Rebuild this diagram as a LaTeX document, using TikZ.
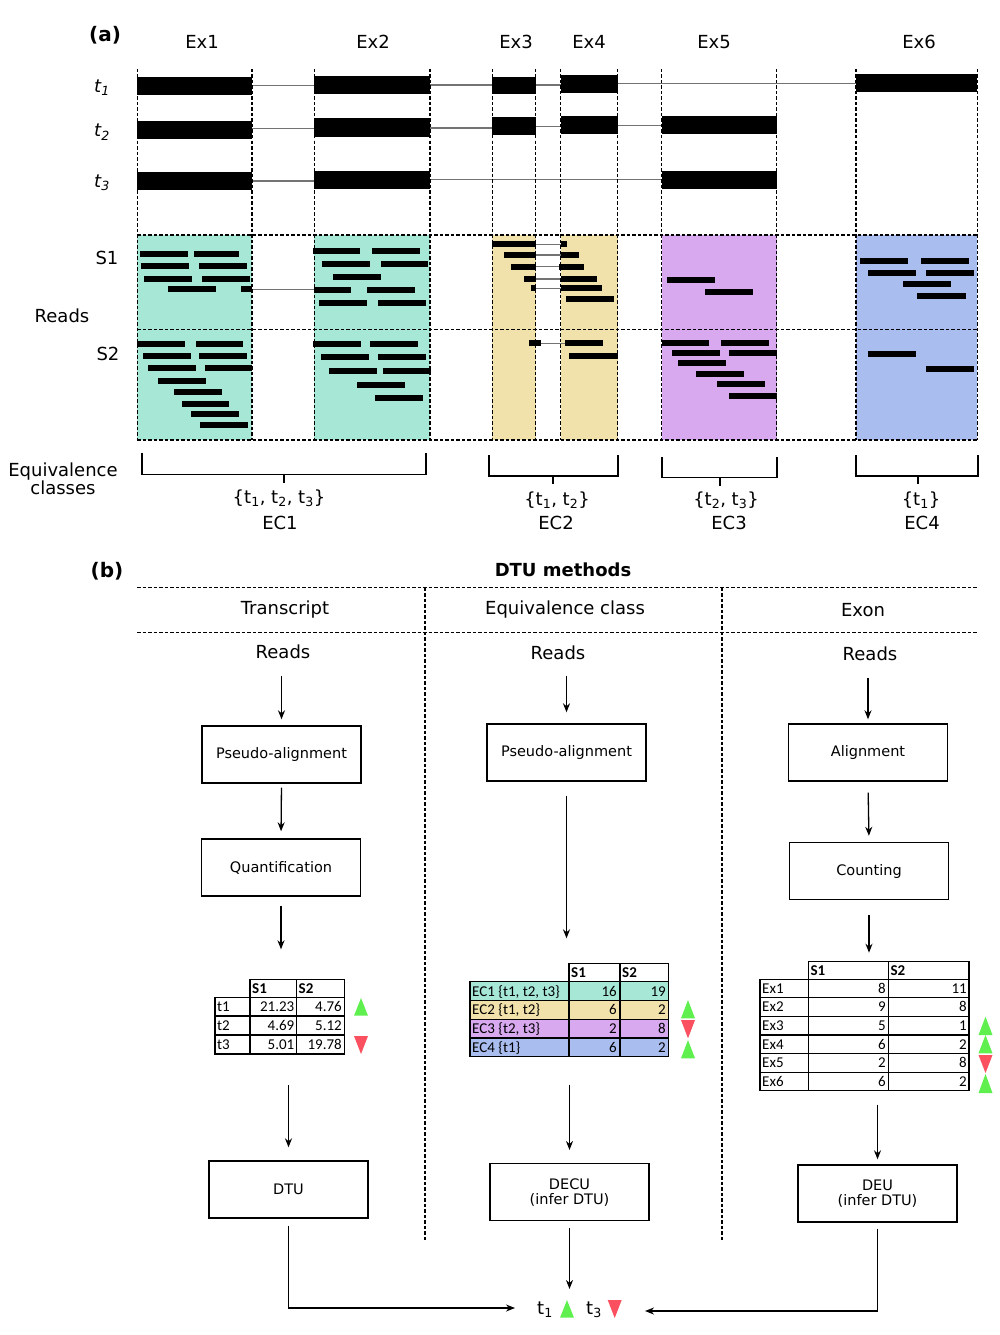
\documentclass[tikz,border=0pt]{standalone}
\usepackage{fontspec}
\setmainfont{DejaVu Sans}
\newfontfamily\tabfont{Carlito}
\usetikzlibrary{arrows.meta}
\definecolor{ecteal}{RGB}{167,231,214}
\definecolor{ecyel}{RGB}{241,225,170}
\definecolor{ecpur}{RGB}{216,169,239}
\definecolor{ecblu}{RGB}{169,189,239}
\definecolor{upgreen}{RGB}{95,240,80}
\definecolor{dnred}{RGB}{250,80,95}
\newcommand\szL{\fontsize{18}{20}\selectfont}
\newcommand\szH{\fontsize{20}{22}\selectfont}
\newcommand\szB{\fontsize{14.5}{15}\selectfont}
\newcommand\szT{\tabfont\fontsize{15}{16}\selectfont}
\newcommand\readbar[3]{\fill[black] (#1,#3-3) rectangle (#2,#3+3);}
\newcommand\exbar[4]{\fill[black] (#1,#2) rectangle (#3,#4);}
\newcommand\uptri[3]{\fill[upgreen] (#1-7,#3) -- (#1+7,#3) -- (#1,#2) -- cycle;}
\newcommand\dntri[3]{\fill[dnred] (#1-7,#2) -- (#1+7,#2) -- (#1,#3) -- cycle;}
\begin{document}
\begin{tikzpicture}[x=1pt,y=-1pt,
  lbl/.style={font=\szL, inner sep=0pt},
  dsh/.style={dash pattern=on 3.5pt off 2pt, line width=1.45pt},
  gline/.style={black!55, line width=1.1pt},
  arr/.style={-{Stealth[length=9pt,width=7pt]}, line width=1.3pt},
  box/.style={draw, line width=1.4pt, minimum width=159pt, minimum height=57pt, font=\szB, inner sep=0pt, align=center},
  tline/.style={line width=1.2pt},
  tt/.style={font=\szT, inner sep=0pt},
  brk/.style={line width=1.4pt}]
\fill[white] (0,0) rectangle (1000,1335);
\useasboundingbox (0,0) rectangle (1000,1335);

% ---------------- (a) ----------------
\node[font=\szH\bfseries, inner sep=0pt] (lbla) at (105,35) {(a)};
\foreach \nm/\xx in {Ex1/202,Ex2/373,Ex3/516,Ex4/589,Ex5/714,Ex6/919}
  \node[lbl] (h\nm) at (\xx,42) {\nm};
\node[lbl] (tl1) at (102,88) {\textit{t\textsubscript{1}}};
\node[lbl] (tl2) at (102,132) {\textit{t\textsubscript{2}}};
\node[lbl] (tl3) at (102,183) {\textit{t\textsubscript{3}}};
\node[lbl] (s1) at (107,258) {S1};
\node[lbl] (s2) at (108,354) {S2};
\node[lbl] (rdsa) at (62,316) {Reads};

% coloured read areas
\fill[ecteal] (137.3,235) rectangle (252,440);
\fill[ecteal] (314.3,235) rectangle (430,440);
\fill[ecyel] (492.3,235) rectangle (535.7,440);
\fill[ecyel] (560.7,235) rectangle (617.7,440);
\fill[ecpur] (661.7,235) rectangle (776.7,440);
\fill[ecblu] (856,235) rectangle (977.3,440);

% transcript intron lines
\draw[gline] (252,85.7) -- (314,85.7);
\draw[gline] (430,85) -- (492,85);
\draw[gline] (536,85) -- (561,85);
\draw[gline] (618,83.5) -- (856,83.5);
\draw[gline] (252,128.5) -- (314,128.5);
\draw[gline] (430,128) -- (492,128);
\draw[gline] (536,126.5) -- (561,126.5);
\draw[gline] (618,125.5) -- (662,125.5);
\draw[gline] (252,181) -- (314,181);
\draw[gline] (430,179.5) -- (662,179.5);

% exon bars
\exbar{137.3}{77}{252}{95}
\exbar{137.3}{121}{252}{138.5}
\exbar{137.3}{172}{252}{189.5}
\exbar{314.3}{76}{430}{94}
\exbar{314.3}{118.5}{430}{136.5}
\exbar{314.3}{171}{430}{188.5}
\exbar{492.3}{77}{535.7}{94.5}
\exbar{492.3}{117}{535.7}{135}
\exbar{560.7}{75}{617.7}{93.5}
\exbar{560.7}{116}{617.7}{134}
\exbar{661.7}{116.5}{776.7}{134}
\exbar{661.7}{170.5}{776.7}{188.5}
\exbar{856}{74.5}{977.3}{92.5}

% read connection lines
\draw[gline] (252,289.5) -- (314,289.5);
\foreach \yy in {244.3,255,266.7,279,288.3} \draw[gline] (535.7,\yy) -- (560.7,\yy);
\draw[gline] (540.7,343.3) -- (565.3,343.3);

% reads S1 Ex1
\readbar{140.3}{187.7}{254.3}\readbar{194.3}{239}{254.3}
\readbar{141}{188.7}{265.7}\readbar{199.3}{247}{265.7}
\readbar{143.7}{191.7}{279}\readbar{202}{250}{279}
\readbar{168}{216}{289.3}\readbar{240.7}{252}{289.3}
% reads S1 Ex2
\readbar{313}{360.3}{251}\readbar{372}{420}{251}
\readbar{322.3}{370}{264.3}\readbar{380.7}{428.3}{264.3}
\readbar{333.3}{381}{277.3}
\readbar{314}{351}{290}\readbar{366.7}{414.7}{290}
\readbar{319.3}{367.3}{303}\readbar{378.3}{426}{303}
% reads S2 Ex1
\readbar{137}{185.3}{344.3}\readbar{195.7}{243.3}{344.3}
\readbar{142.7}{190.7}{355.7}\readbar{199.3}{247}{355.7}
\readbar{148.3}{196.3}{368.3}\readbar{204.7}{252}{368.3}
\readbar{158.3}{206.3}{381}
\readbar{174}{222}{392.3}
\readbar{181.7}{229.3}{404.3}
\readbar{190.7}{238.7}{414}
\readbar{200}{248}{424.7}
% reads S2 Ex2
\readbar{313.3}{361}{344.3}\readbar{370}{418}{344.3}
\readbar{321.3}{369}{357.3}\readbar{378.3}{426}{357.3}
\readbar{329}{377}{370.7}\readbar{383.3}{431}{370.7}
\readbar{356.7}{404.7}{385}
\readbar{375.3}{423.3}{397.7}
% reads Ex3/Ex4
\readbar{492.3}{535.7}{244.3}\readbar{560.7}{566.7}{244.3}
\readbar{504}{535.7}{255}\readbar{560.7}{579}{255}
\readbar{511}{535.7}{266.7}\readbar{559.3}{584}{266.7}
\readbar{524.3}{535.7}{279}\readbar{560.7}{597}{279}
\readbar{531}{535.7}{288.3}\readbar{560.7}{601.7}{288.3}
\readbar{566}{614}{299}
\readbar{529.3}{540.7}{343.3}\readbar{565.3}{602.7}{343.3}
\readbar{569.3}{617.7}{356}
% reads Ex5
\readbar{667.3}{715.3}{280}\readbar{705}{753}{291.7}
\readbar{661.7}{709.3}{343}\readbar{721}{769}{343}
\readbar{672}{720}{352.7}\readbar{729}{776.7}{352.7}
\readbar{678}{726}{363.3}
\readbar{696}{744}{374}
\readbar{717.3}{765.3}{384}
\readbar{729}{776.7}{395.7}
% reads Ex6
\readbar{860}{908}{261}\readbar{921.3}{969.3}{261}
\readbar{868}{916}{273.3}\readbar{926}{974}{273.3}
\readbar{903}{951}{284.3}
\readbar{917.3}{965.7}{296.3}
\readbar{867.7}{915.7}{354.3}\readbar{926}{974}{369}

% dashed grid
\foreach \xx in {137.3,252,314.3,430,492.3,535.7,560.7,617.7,661.7,776.7,856,977.3}
  \draw[dsh] (\xx,69) -- (\xx,440);
\foreach \yy in {235,329.5,440}
  \draw[dsh] (137.3,\yy) -- (977.3,\yy);

% equivalence classes
\node[lbl, align=center] (eqcl) at (63,479) {Equivalence\\[-2pt]classes};
\draw[brk] (142,452.7) -- (142,474.3) -- (426,474.3) -- (426,452.7);
\draw[brk] (284,474.3) -- (284,483.3);
\draw[brk] (489,455) -- (489,476) -- (618,476) -- (618,455);
\draw[brk] (553,476) -- (553,484.3);
\draw[brk] (662,457.3) -- (662,477.7) -- (777,477.7) -- (777,457.3);
\draw[brk] (720,477.7) -- (720,485.7);
\draw[brk] (856,455) -- (856,476) -- (978,476) -- (978,455);
\draw[brk] (918,476) -- (918,484);
\node[lbl] (ecs1) at (279,498) {\{t\textsubscript{1}, t\textsubscript{2}, t\textsubscript{3}\}};
\node[lbl] (ecs2) at (557,500) {\{t\textsubscript{1}, t\textsubscript{2}\}};
\node[lbl] (ecs3) at (726,500) {\{t\textsubscript{2}, t\textsubscript{3}\}};
\node[lbl] (ecs4) at (921,500) {\{t\textsubscript{1}\}};
\node[lbl] (ec1) at (280,523.3) {EC1};
\node[lbl] (ec2) at (556,523.3) {EC2};
\node[lbl] (ec3) at (729,523.3) {EC3};
\node[lbl] (ec4) at (922,523.3) {EC4};

% ---------------- (b) ----------------
\node[font=\szH\bfseries, inner sep=0pt] (lblb) at (107,571) {(b)};
\node[font=\szL\bfseries, inner sep=0pt] (dtum) at (563,570) {DTU methods};
\draw[dsh] (137,587.5) -- (977,587.5);
\draw[dsh] (137,632.3) -- (977,632.3);
\draw[dsh] (425,587.5) -- (425,1240);
\draw[dsh] (722,587.5) -- (722,1240);
\node[lbl] (c1h) at (285,610) {Transcript};
\node[lbl] (c2h) at (565,610) {Equivalence class};
\node[lbl] (c3h) at (863,610) {Exon};
\node[lbl] (rd1) at (283,651.7) {Reads};
\node[lbl] (rd2) at (558,652.5) {Reads};
\node[lbl] (rd3) at (870,653.5) {Reads};

\node[box] (pa1) at (281.5,754.5) {Pseudo-alignment};
\node[box] (quant1) at (281,867.5) {Quantification};
\node[box] (dtu) at (288.5,1189.5) {DTU};
\node[box] (pa2) at (566.5,752.5) {Pseudo-alignment};
\node[box] (decu) at (569.5,1192.2) {DECU\\(infer DTU)};
\node[box] (align3) at (868,752.5) {Alignment};
\node[box] (count3) at (869,871) {Counting};
\node[box] (deu) at (877.5,1193.5) {DEU\\(infer DTU)};

\coordinate (tab1n) at (285,979.3);
\coordinate (tab1s) at (287,1054);
\coordinate (tab2n) at (566,963.3);
\coordinate (tab2s) at (568,1056.7);
\coordinate (tab3n) at (873,961.7);
\coordinate (tab3s) at (874,1090.7);
\coordinate (resL) at (515,1308);
\coordinate (resR) at (645,1311);
\coordinate (resT) at (572,1289);

% arrows column 1
\draw[arr, shorten <=17pt, shorten >=6pt] (rd1.south -| pa1.north) -- (pa1.north);
\draw[arr, shorten <=4pt, shorten >=7pt] (pa1.south) -- (quant1.north);
\draw[arr, shorten <=9pt, shorten >=30pt] (quant1.south) -- (quant1.south |- tab1n);
\draw[arr, shorten <=31pt, shorten >=13pt] (dtu.north |- tab1s) -- (dtu.north);
\draw[arr, shorten <=7pt] (dtu.south) |- (resL);
% arrows column 2
\draw[arr, shorten <=16pt, shorten >=11pt] (rd2.south -| pa2.north) -- (pa2.north);
\draw[arr, shorten <=14pt, shorten >=25pt] (pa2.south) -- (pa2.south |- tab2n);
\draw[arr, shorten <=28pt, shorten >=13pt] (decu.north |- tab2s) -- (decu.north);
\draw[arr, shorten <=7pt] (decu.south) -- (decu.south |- resT);
% arrows column 3
\draw[arr, shorten <=17pt, shorten >=4pt] (rd3.south -| align3.north) -- (align3.north);
\draw[arr, shorten <=11pt, shorten >=6pt] (align3.south) -- (count3.north);
\draw[arr, shorten <=15pt, shorten >=9pt] (count3.south) -- (count3.south |- tab3n);
\draw[arr, shorten <=14pt, shorten >=5pt] (deu.north |- tab3s) -- (deu.north);
\draw[arr, shorten <=6pt] (deu.south) |- (resR);

% table 1
\draw[tline] (250,979.3) rectangle (344.3,997.3);
\draw[tline] (215,997.3) rectangle (344.3,1054);
\foreach \yy in {1016,1035} \draw[tline] (215,\yy) -- (344.3,\yy);
\foreach \xx in {250,296.7} \draw[tline] (\xx,979.3) -- (\xx,1054);
\node[tt, font=\szT\bfseries, anchor=base west] (t1h1) at (252,993) {S1};
\node[tt, font=\szT\bfseries, anchor=base west] (t1h2) at (298.5,993) {S2};
\foreach \lab/\va/\vb [count=\i] in {t1/21.23/4.76, t2/4.69/5.12, t3/5.01/19.78} {
  \pgfmathsetmacro\yb{997.3+18.9*\i-4.5}
  \node[tt, anchor=base west] (t1r\i-l) at (217,\yb) {\lab};
  \node[tt, anchor=base east] (t1r\i-a) at (294.5,\yb) {\va};
  \node[tt, anchor=base east] (t1r\i-b) at (342,\yb) {\vb};
}
\uptri{361}{998}{1015.7}
\dntri{361}{1036}{1054}

% table 2
\fill[ecteal] (470,981.7) rectangle (668.3,1000.5);
\fill[ecyel] (470,1000.5) rectangle (668.3,1019.3);
\fill[ecpur] (470,1019.3) rectangle (668.3,1038);
\fill[ecblu] (470,1038) rectangle (668.3,1056.7);
\draw[tline] (569,963.3) rectangle (668.3,981.7);
\draw[tline] (470,981.7) rectangle (668.3,1056.7);
\foreach \yy in {1000.5,1019.3,1038} \draw[tline] (470,\yy) -- (668.3,\yy);
\foreach \xx in {569,620} \draw[tline] (\xx,963.3) -- (\xx,1056.7);
\node[tt, font=\szT\bfseries, anchor=base west] (t2h1) at (571,977.3) {S1};
\node[tt, font=\szT\bfseries, anchor=base west] (t2h2) at (622,977.3) {S2};
\node[tt, anchor=base west] (t2r1-l) at (472,996) {EC1 \{t1, t2, t3\}};
\node[tt, anchor=base east] (t2r1-a) at (617,996) {16};
\node[tt, anchor=base east] (t2r1-b) at (666,996) {19};
\node[tt, anchor=base west] (t2r2-l) at (472,1014.8) {EC2 \{t1, t2\}};
\node[tt, anchor=base east] (t2r2-a) at (617,1014.8) {6};
\node[tt, anchor=base east] (t2r2-b) at (666,1014.8) {2};
\node[tt, anchor=base west] (t2r3-l) at (472,1033.5) {EC3 \{t2, t3\}};
\node[tt, anchor=base east] (t2r3-a) at (617,1033.5) {2};
\node[tt, anchor=base east] (t2r3-b) at (666,1033.5) {8};
\node[tt, anchor=base west] (t2r4-l) at (472,1052.2) {EC4 \{t1\}};
\node[tt, anchor=base east] (t2r4-a) at (617,1052.2) {6};
\node[tt, anchor=base east] (t2r4-b) at (666,1052.2) {2};
\uptri{688}{1000}{1018.3}
\dntri{688}{1020}{1038.3}
\uptri{688}{1040}{1058.3}

% table 3
\draw[tline] (808.3,961.7) rectangle (969,979.3);
\draw[tline] (760,979.3) rectangle (969,1090.7);
\foreach \k in {1,...,5} \draw[tline] (760,979.3+18.57*\k) -- (969,979.3+18.57*\k);
\foreach \xx in {808.3,888.3} \draw[tline] (\xx,961.7) -- (\xx,1090.7);
\node[tt, font=\szT\bfseries, anchor=base west] (t3h1) at (810.3,975.3) {S1};
\node[tt, font=\szT\bfseries, anchor=base west] (t3h2) at (890.3,975.3) {S2};
\foreach \lab/\va/\vb [count=\i] in {Ex1/8/11, Ex2/9/8, Ex3/5/1, Ex4/6/2, Ex5/2/8, Ex6/6/2} {
  \pgfmathsetmacro\yb{979.3+18.57*\i-4.5}
  \node[tt, anchor=base west] (t3r\i-l) at (762,\yb) {\lab};
  \node[tt, anchor=base east] (t3r\i-a) at (886,\yb) {\va};
  \node[tt, anchor=base east] (t3r\i-b) at (967,\yb) {\vb};
}
\uptri{985.5}{1016.7}{1035}
\uptri{985.5}{1035}{1053.3}
\dntri{985.5}{1055}{1073}
\uptri{985.5}{1074}{1093}

% result
\node[lbl] (rt1) at (545,1310) {t\textsubscript{1}};
\uptri{567}{1300}{1317.7}
\node[lbl] (rt3) at (594,1310) {t\textsubscript{3}};
\dntri{614.7}{1300}{1318}
\end{tikzpicture}
\end{document}
